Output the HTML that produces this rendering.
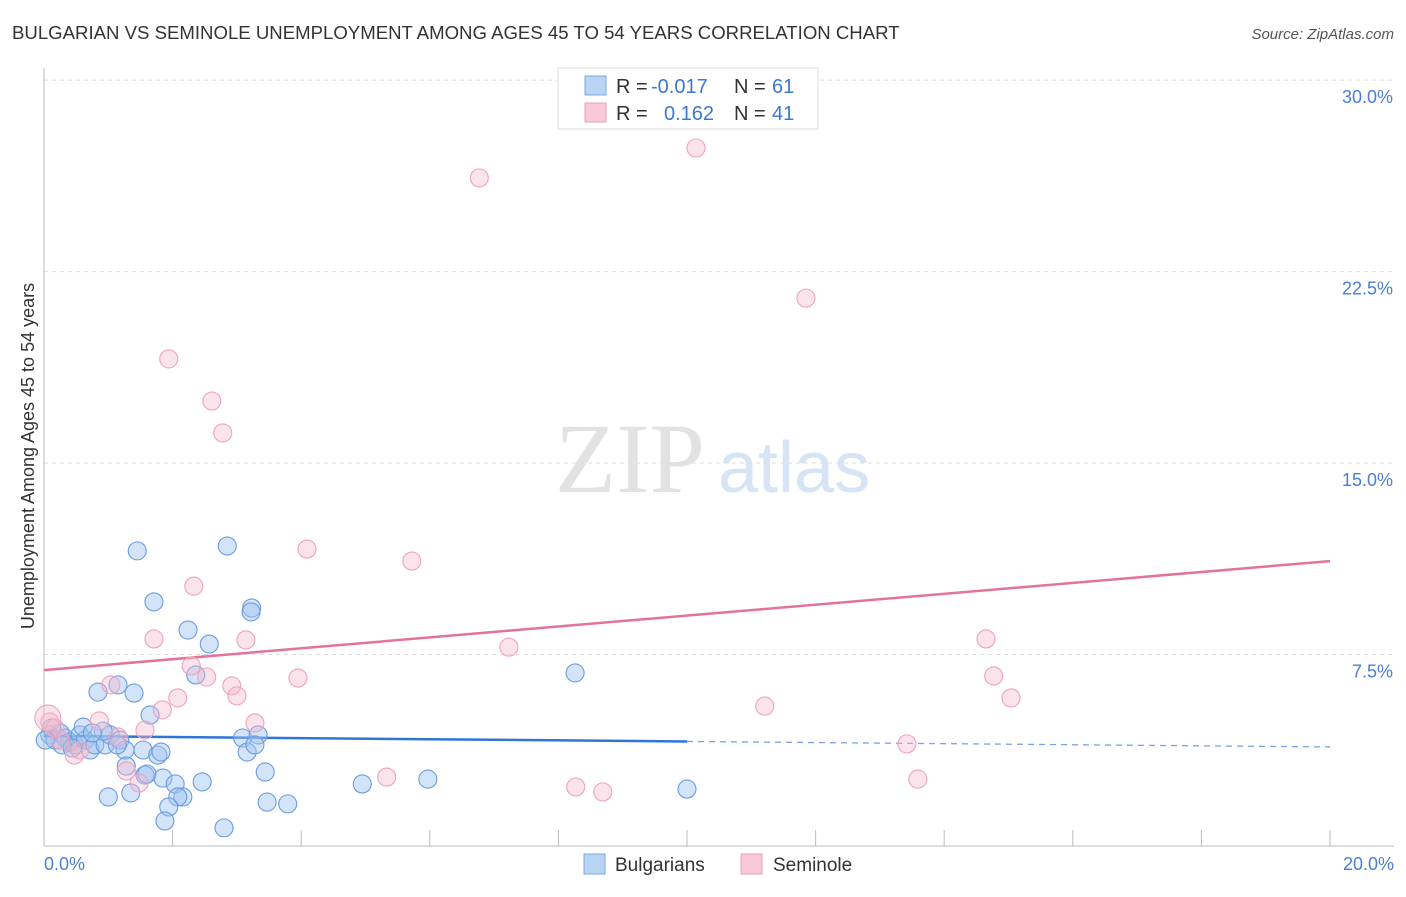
<!DOCTYPE html>
<html><head><meta charset="utf-8"><style>
body{margin:0;background:#fff;font-family:"Liberation Sans",sans-serif;}
svg text{font-family:"Liberation Sans",sans-serif;}
</style></head><body>
<svg id="chart" width="1406" height="892" viewBox="0 0 1406 892">
<text x="12" y="39" font-size="18.6" fill="#333">BULGARIAN VS SEMINOLE UNEMPLOYMENT AMONG AGES 45 TO 54 YEARS CORRELATION CHART</text>
<text x="1394" y="39" font-size="15" fill="#555" font-style="italic" text-anchor="end">Source: ZipAtlas.com</text>
<text transform="translate(34,456) rotate(-90)" font-size="18" fill="#333" text-anchor="middle">Unemployment Among Ages 45 to 54 years</text>
<g>
<text x="555" y="492" font-size="100" fill="#e2e2e2" font-family="Liberation Serif" style="font-family:'Liberation Serif',serif">ZIP</text>
<text x="718" y="492" font-size="72" fill="#d6e4f5">atlas</text>
</g>
<g id="grid"></g><g id="axes"></g><g id="lines"></g><g id="blue"></g><g id="pink"></g>
<g>
<rect x="558" y="68" width="260" height="61" fill="#fff" stroke="#ddd"/>
<rect x="585" y="76" width="21" height="19" fill="#b9d3f3" stroke="#7aa7e3"/>
<rect x="585" y="103" width="21" height="19" fill="#f9c9d7" stroke="#eaa0b8"/>
<text x="616" y="93" font-size="20" fill="#333">R = </text><text x="651" y="93" font-size="20" fill="#3a78d6">-0.017</text>
<text x="734" y="93" font-size="20" fill="#333">N = </text><text x="772" y="93" font-size="20" fill="#3a78d6">61</text>
<text x="616" y="120" font-size="20" fill="#333">R = </text><text x="664" y="120" font-size="20" fill="#3a78d6">0.162</text>
<text x="734" y="120" font-size="20" fill="#333">N = </text><text x="772" y="120" font-size="20" fill="#3a78d6">41</text>
</g>
<g>
<rect x="584" y="854" width="21" height="20" fill="#b9d3f3" stroke="#7aa7e3"/>
<text x="615" y="871" font-size="19" fill="#333">Bulgarians</text>
<rect x="741" y="854" width="21" height="20" fill="#f9c9d7" stroke="#eaa0b8"/>
<text x="773" y="871" font-size="19" fill="#333">Seminole</text>
</g>
</svg>
<script>
const yTicks=[7.5,15,22.5,30];
const yTickLabels=["7.5%","15.0%","22.5%","30.0%"];
const xTickLabels=["0.0%","20.0%"];
const blueX=[1.45,2.85,1.71,3.23,3.22,2.24,2.57,8.26,0.84,1.15,1.40,2.36,1.65,0.09,0.17,0.25,0.33,0.40,0.48,0.56,0.64,0.72,0.79,0.61,0.95,1.03,1.18,1.26,1.54,1.77,0.92,1.14,3.09,3.16,3.33,3.28,1.28,1.57,1.85,2.04,2.46,3.44,4.95,5.97,10.0,1.00,1.35,2.16,2.08,1.94,1.88,2.80,3.47,3.79,0.12,0.28,0.44,0.75,1.60,1.82,0.02];
const blueY=[11.56,11.75,9.56,9.32,9.17,8.46,7.91,6.78,6.03,6.31,5.99,6.70,5.13,4.35,4.15,4.43,4.23,4.07,3.96,4.35,4.15,3.76,3.96,4.66,3.96,4.35,4.15,3.76,3.76,3.56,4.50,3.96,4.23,3.68,4.35,3.96,3.13,2.78,2.66,2.43,2.51,2.90,2.43,2.62,2.23,1.92,2.08,1.92,1.92,1.53,0.98,0.71,1.72,1.65,4.62,3.96,3.84,4.43,2.82,3.68,4.15];
const pinkX=[10.14,6.77,11.85,1.94,2.61,2.78,4.09,5.72,2.33,1.71,3.14,7.23,14.65,2.29,2.53,3.95,2.92,3.00,2.08,1.04,1.84,14.77,15.04,11.21,3.28,0.86,1.15,1.57,13.42,0.09,0.17,0.47,0.56,1.28,1.48,5.33,8.27,8.69,13.59,0.06,0.25];
const pinkY=[27.34,26.17,21.46,19.08,17.43,16.18,11.63,11.16,10.18,8.11,8.07,7.79,8.11,7.05,6.62,6.58,6.27,5.88,5.80,6.31,5.33,6.66,5.80,5.48,4.82,4.90,4.27,4.54,4.00,4.86,4.62,3.56,3.76,2.94,2.47,2.70,2.31,2.12,2.62,5.01,4.15];
const blueTrend=[4.31,3.88];
const pinkTrend=[6.89,11.16];
const NS="http://www.w3.org/2000/svg";
const X=v=>44+v*64.3, Y=v=>846-v*25.53;
function mk(tag,attrs,parent){const e=document.createElementNS(NS,tag);for(const k in attrs)e.setAttribute(k,attrs[k]);document.getElementById(parent).appendChild(e);return e;}
yTicks.forEach((t,i)=>{
 const g=mk('line',{x1:44,x2:1394,y1:Y(t),y2:Y(t),stroke:'#ddd','stroke-dasharray':'4,4'},'grid');
 
 
 const l=mk('text',{x:1393,y:Y(t)+23,'font-size':18,fill:'#4a7fd4','text-anchor':'end'},'grid');
 l.textContent=yTickLabels[i];
 
 
});
const ax=mk('line',{x1:44,x2:44,y1:68,y2:846,stroke:'#bbb'},'axes');


const bx=mk('line',{x1:44,x2:1394,y1:846,y2:846,stroke:'#bbb'},'axes');


for(let i=1;i<=10;i++){
 const t=mk('line',{x1:X(i*2),x2:X(i*2),y1:830,y2:846,stroke:'#bbb'},'axes');
 
 
}
[[0,'start',44],[20,'end',1394]].forEach((d,i)=>{
 const t=mk('text',{x:d[2],y:870,'font-size':18,fill:'#4a7fd4','text-anchor':d[1]},'axes');
 t.textContent=xTickLabels[i];
 
 
});
const pt=mk('line',{x1:X(0),y1:Y(pinkTrend[0]),x2:X(20),y2:Y(pinkTrend[1]),stroke:'#e4739b','stroke-width':2.5},'lines');


const bm=blueTrend[0]+(blueTrend[1]-blueTrend[0])*0.5;
const b1=mk('line',{x1:X(0),y1:Y(blueTrend[0]),x2:X(10),y2:Y(bm),stroke:'#2f74d6','stroke-width':2.5},'lines');


const b2=mk('line',{x1:X(10),y1:Y(bm),x2:X(20),y2:Y(blueTrend[1]),stroke:'#7aa3e0','stroke-width':1.3,'stroke-dasharray':'6,5'},'lines');


blueX.forEach((v,i)=>{
 const c=mk('circle',{cx:X(v),cy:Y(blueY[i]),r:9,fill:'rgba(160,196,240,0.45)',stroke:'#6a9be0','stroke-width':1.1},'blue');
 
 
});
pinkX.forEach((v,i)=>{
 const c=mk('circle',{cx:X(v),cy:Y(pinkY[i]),r:(i===39?13:9),fill:'rgba(246,186,205,0.4)',stroke:'#eea3bc','stroke-width':1.1},'pink');
 
 
});
</script>
</body></html>
